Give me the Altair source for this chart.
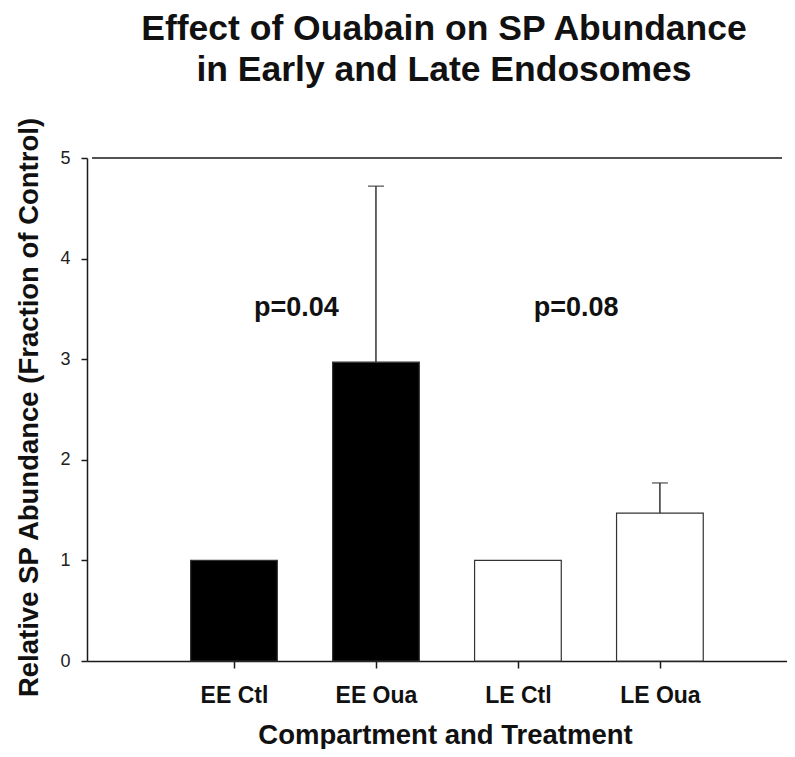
import altair as alt
import pandas as pd

# ---- data ----
categories = ["EE Ctl", "EE Oua", "LE Ctl", "LE Oua"]
groups = ["EE", "EE", "LE", "LE"]
means = [1.0, 2.97, 1.0, 1.47]
errors = [0.0, 1.75, 0.0, 0.30]

p_labels = ["p=0.04", "p=0.08"]
p_x = [1.44, 3.41]
p_y = [3.43, 3.43]

title_lines = ["Effect of Ouabain on SP Abundance", "in Early and Late Endosomes"]
x_title = "Compartment and Treatment"
y_title = "Relative SP Abundance (Fraction of Control)"
y_ticks = [0, 1, 2, 3, 4, 5]
x_max = 4.86
y_max = 5

FONT = "Liberation Sans"
INK = "#1a1a1a"

bars_df = pd.DataFrame({
    "category": categories,
    "group": groups,
    "mean": means,
    "err": errors,
    "pos": list(range(1, len(categories) + 1)),
})
text_df = pd.DataFrame({"label": p_labels, "x": p_x, "y": p_y})

label_expr = "[" + ",".join("'" + c + "'" for c in categories) + "][datum.value - 1]"

x_scale = alt.Scale(domain=[0, x_max], nice=False, zero=False)
y_scale = alt.Scale(domain=[0, y_max], nice=False)

x_axis = alt.Axis(
    values=[1, 2, 3, 4], labelExpr=label_expr, grid=False,
    tickSize=7, tickWidth=1.5, tickColor=INK,
    domainColor=INK, domainWidth=1.5,
    labelFont=FONT, labelFontSize=23, labelFontWeight="bold", labelColor="#111",
    labelPadding=16, labelFlush=False, labelOverlap=False,
    title=x_title, titleFont=FONT, titleFontSize=27.5, titleFontWeight="bold",
    titleColor="#111", titleX=358, titleY=82, titleBaseline="alphabetic",
)
y_axis = alt.Axis(
    values=y_ticks, format="d", grid=False,
    tickSize=6, tickWidth=1.5, tickColor=INK,
    domainColor=INK, domainWidth=1.5,
    labelFont=FONT, labelFontSize=18, labelColor="#222", labelPadding=11,
    labelFlush=False,
    title=y_title, titleFont=FONT, titleFontSize=27.5, titleFontWeight="bold",
    titleColor="#111", titleX=-50, titleY=249, titleBaseline="alphabetic",
    titleAngle=270, titleAlign="center",
)

base = alt.Chart(bars_df)

bars = base.mark_bar(size=86.7, stroke="#333", strokeWidth=1.2).encode(
    x=alt.X("pos:Q", scale=x_scale, axis=x_axis),
    y=alt.Y("mean:Q", scale=y_scale, axis=y_axis, stack=None),
    fill=alt.Fill("group:N", scale=alt.Scale(domain=["EE", "LE"], range=["#000000", "#ffffff"]), legend=None),
)

err_base = base.transform_filter("datum.err > 0").transform_calculate(upper="datum.mean + datum.err")

rules = err_base.mark_rule(color="#333", strokeWidth=1.5).encode(
    x=alt.X("pos:Q", scale=x_scale),
    y=alt.Y("mean:Q", scale=y_scale),
    y2="upper:Q",
)
caps = err_base.mark_tick(orient="horizontal", size=16, thickness=1.5, color="#333").encode(
    x=alt.X("pos:Q", scale=x_scale),
    y=alt.Y("upper:Q", scale=y_scale),
)

# top frame line of the plot box
top_line = alt.Chart(pd.DataFrame({"y": [y_max]})).mark_rule(color=INK, strokeWidth=1.5).encode(
    x=alt.datum(0, scale=x_scale),
    x2=alt.datum(x_max),
    y=alt.Y("y:Q", scale=y_scale),
)

ptext = alt.Chart(text_df).mark_text(
    font=FONT, fontSize=27, fontWeight="bold", color="#111", baseline="alphabetic", align="center"
).encode(
    x=alt.X("x:Q", scale=x_scale),
    y=alt.Y("y:Q", scale=y_scale),
    text="label:N",
)

chart = alt.layer(bars, rules, caps, top_line, ptext).properties(
    width=700,
    height=503,
    autosize=alt.AutoSizeParams(type="none"),
    padding={"left": 79, "top": 150, "right": 0, "bottom": 88},
    title=alt.TitleParams(
        title_lines, font=FONT, fontSize=35.5, fontWeight="bold", lineHeight=41,
        anchor="middle", frame="group", offset=28, dx=7, color="#111",
    ),
).configure(background="white").configure_view(stroke=None)

chart.save("out.html", embed_options={"renderer": "svg", "actions": False})
